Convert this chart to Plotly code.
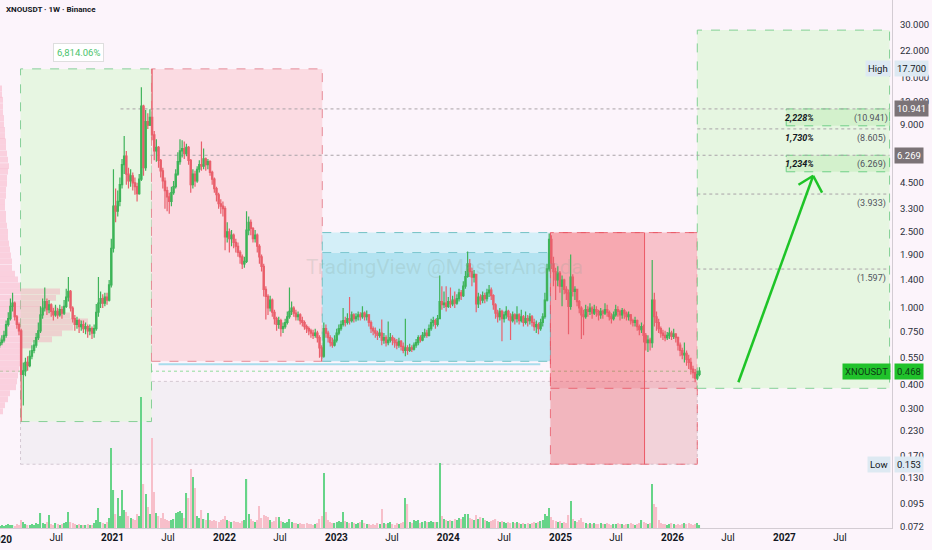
import numpy as np
import pandas as pd
import plotly.graph_objects as go

# ---- weekly candles XNOUSDT (Binance), first bar = week of 2019-12-30 ----
first_open = 0.64
close = [
    0.66, 0.68, 0.72, 0.82, 0.88, 1.02, 1.06, 0.90, 0.82, 0.76,
    0.45, 0.47, 0.52, 0.50, 0.56, 0.60, 0.64, 0.70, 0.76, 0.92,
    1.00, 1.08, 0.98, 1.04, 0.96, 0.92, 0.96, 0.92, 0.98, 0.94,
    1.02, 1.14, 1.22, 1.00, 0.88, 0.82, 0.86, 0.80, 0.82, 0.78,
    0.80, 0.76, 0.78, 0.74, 0.78, 0.95, 1.06, 1.12, 1.06, 1.14,
    1.10, 1.32, 2.05, 3.40, 3.20, 3.60, 4.40, 5.60, 6.20, 5.00,
    4.60, 4.90, 4.50, 4.30, 3.95, 4.70, 11.3, 5.40, 9.40, 9.00,
    9.90, 8.00, 6.60, 6.90, 5.90, 5.20, 4.60, 4.10, 3.80, 3.60,
    4.00, 4.30, 5.00, 5.80, 6.60, 6.80, 6.40, 6.90, 5.90, 4.40,
    5.00, 4.60, 5.30, 5.60, 5.50, 6.00, 5.60, 5.80, 5.10, 4.70,
    4.20, 3.90, 3.50, 3.40, 3.30, 2.35, 2.50, 2.30, 2.40, 2.20,
    2.10, 1.95, 1.85, 1.70, 1.75, 2.55, 2.80, 2.60, 2.30, 2.40,
    2.10, 1.85, 1.65, 1.25, 1.15, 1.00, 1.10, 0.95, 0.88, 0.82,
    0.86, 0.78, 0.80, 0.84, 0.90, 0.96, 1.00, 0.94, 0.90, 0.92,
    0.86, 0.84, 0.80, 0.78, 0.76, 0.74, 0.72, 0.74, 0.70, 0.62,
    0.56, 0.78, 0.74, 0.70, 0.66, 0.64, 0.68, 0.74, 0.78, 0.82,
    0.86, 0.84, 0.88, 0.86, 0.92, 0.88, 0.90, 0.92, 0.90, 0.94,
    0.90, 0.92, 0.84, 0.78, 0.76, 0.74, 0.72, 0.74, 0.68, 0.70,
    0.66, 0.68, 0.70, 0.68, 0.66, 0.64, 0.67, 0.63, 0.60, 0.62,
    0.60, 0.62, 0.61, 0.64, 0.66, 0.70, 0.68, 0.72, 0.74, 0.72,
    0.78, 0.84, 0.86, 0.82, 0.88, 1.08, 1.04, 1.06, 1.02, 1.08,
    1.05, 1.10, 1.06, 1.12, 1.20, 1.16, 1.30, 1.46, 1.70, 1.55,
    1.45, 1.50, 1.05, 1.14, 1.10, 1.16, 1.12, 1.20, 1.24, 1.16,
    1.04, 0.94, 0.90, 0.96, 0.88, 0.92, 0.96, 0.90, 0.86, 0.92,
    0.88, 0.92, 0.86, 0.90, 0.84, 0.88, 0.86, 0.90, 0.84, 0.80,
    0.82, 0.78, 0.84, 0.90, 1.10, 1.60, 2.28, 1.70, 1.55, 1.40,
    1.52, 1.30, 1.40, 1.25, 1.20, 1.02, 1.45, 1.22, 1.25, 1.08,
    1.00, 0.92, 0.90, 0.98, 0.96, 1.00, 0.94, 0.98, 0.96, 0.92,
    0.96, 0.94, 0.98, 0.95, 0.90, 0.88, 0.92, 0.98, 0.96, 0.92,
    0.97, 0.94, 0.90, 0.92, 0.86, 0.84, 0.86, 0.80, 0.77, 0.80,
    0.72, 0.66, 0.68, 0.66, 1.10, 0.90, 0.84, 0.78, 0.74, 0.72,
    0.70, 0.72, 0.74, 0.71, 0.73, 0.70, 0.64, 0.60, 0.57, 0.58,
    0.54, 0.52, 0.48, 0.46, 0.43, 0.45, 0.468,
]
high = [
    0.70, 0.72, 0.76, 0.86, 0.95, 1.12, 1.20, 1.08, 0.92, 0.84,
    0.78, 0.52, 0.55, 0.56, 0.60, 0.64, 0.68, 0.74, 0.84, 1.02,
    1.12, 1.28, 1.12, 1.10, 1.06, 1.00, 1.04, 1.00, 1.04, 1.02,
    1.10, 1.26, 1.45, 1.24, 1.02, 0.92, 0.90, 0.88, 0.86, 0.86,
    0.84, 0.82, 0.82, 0.80, 0.82, 1.05, 1.45, 1.22, 1.18, 1.20,
    1.20, 1.40, 2.30, 5.30, 4.20, 4.10, 4.80, 6.00, 7.90, 6.60,
    5.40, 5.30, 5.10, 4.80, 4.50, 5.00, 14.2, 11.5, 10.8, 10.4,
    10.9, 17.7, 8.40, 7.60, 7.00, 6.00, 5.40, 4.80, 4.30, 4.00,
    4.30, 4.60, 5.30, 6.50, 7.60, 7.50, 7.40, 7.20, 7.00, 6.00,
    5.30, 5.20, 5.50, 5.90, 7.40, 6.80, 6.10, 6.00, 5.90, 5.20,
    4.80, 4.30, 4.00, 3.70, 3.60, 3.40, 2.80, 2.60, 2.55, 2.45,
    2.30, 2.20, 2.00, 1.90, 1.85, 3.20, 3.00, 2.90, 2.65, 2.55,
    2.45, 2.15, 1.90, 1.70, 1.30, 1.18, 1.16, 1.12, 0.98, 0.90,
    0.90, 0.88, 0.84, 0.88, 0.96, 1.28, 1.08, 1.02, 0.98, 0.96,
    0.94, 0.90, 0.86, 0.82, 0.80, 0.78, 0.77, 0.78, 0.76, 0.72,
    0.64, 0.84, 0.82, 0.76, 0.72, 0.70, 0.72, 0.78, 0.82, 0.86,
    1.00, 0.90, 0.94, 1.14, 0.96, 0.94, 0.94, 0.96, 0.95, 1.02,
    0.96, 0.97, 0.93, 0.86, 0.80, 0.79, 0.76, 0.78, 0.87, 0.74,
    0.72, 0.85, 0.74, 0.72, 0.70, 0.69, 0.70, 0.68, 0.66, 0.88,
    0.64, 0.65, 0.64, 0.66, 0.69, 0.72, 0.72, 0.75, 0.78, 0.77,
    0.82, 0.88, 0.90, 0.88, 0.92, 1.48, 1.30, 1.22, 1.30, 1.14,
    1.28, 1.16, 1.22, 1.18, 1.26, 1.24, 1.38, 1.56, 1.97, 1.80,
    1.62, 1.58, 1.50, 1.20, 1.18, 1.22, 1.20, 1.26, 1.32, 1.28,
    1.18, 1.06, 0.98, 1.00, 0.98, 0.96, 1.02, 0.98, 0.94, 0.96,
    0.94, 1.02, 0.94, 0.98, 0.92, 0.96, 0.92, 0.94, 0.92, 0.88,
    0.86, 0.84, 0.88, 0.94, 1.20, 1.70, 2.45, 2.40, 1.85, 1.62,
    1.65, 1.56, 1.48, 1.42, 1.30, 1.25, 1.90, 1.50, 1.30, 1.26,
    1.10, 1.02, 0.98, 1.04, 1.02, 1.06, 1.02, 1.04, 1.02, 0.98,
    1.00, 0.98, 1.06, 1.04, 0.97, 0.94, 0.96, 1.04, 1.02, 0.98,
    1.00, 0.99, 0.96, 0.96, 0.93, 0.88, 0.90, 0.87, 0.82, 0.84,
    0.82, 0.74, 0.72, 0.70, 1.78, 1.20, 0.96, 0.88, 0.80, 0.77,
    0.76, 0.75, 0.79, 0.76, 0.78, 0.74, 0.71, 0.66, 0.62, 0.66,
    0.60, 0.57, 0.55, 0.50, 0.48, 0.47, 0.49,
]
low = [
    0.62, 0.64, 0.66, 0.70, 0.80, 0.86, 0.96, 0.86, 0.78, 0.72,
    0.256, 0.31, 0.44, 0.47, 0.49, 0.54, 0.58, 0.62, 0.68, 0.74,
    0.88, 0.96, 0.92, 0.94, 0.90, 0.86, 0.90, 0.88, 0.90, 0.88,
    0.92, 1.00, 1.08, 0.96, 0.84, 0.76, 0.78, 0.74, 0.76, 0.74,
    0.73, 0.70, 0.72, 0.69, 0.70, 0.76, 0.90, 1.00, 1.00, 1.02,
    1.04, 1.08, 1.28, 1.95, 2.80, 3.00, 3.40, 4.20, 5.00, 4.40,
    4.20, 4.30, 4.10, 3.90, 3.60, 3.90, 4.60, 4.90, 5.20, 8.60,
    8.90, 7.50, 5.90, 5.80, 5.40, 4.80, 4.20, 3.30, 3.20, 3.10,
    3.40, 3.90, 4.20, 4.90, 5.60, 6.10, 6.00, 6.20, 5.60, 4.00,
    4.20, 4.30, 4.50, 5.10, 5.20, 5.30, 5.20, 5.30, 4.90, 4.40,
    4.00, 3.60, 3.30, 3.10, 3.00, 2.00, 2.20, 1.95, 2.10, 2.05,
    1.95, 1.85, 1.70, 1.60, 1.62, 1.72, 2.40, 2.40, 2.20, 2.20,
    1.95, 1.70, 1.55, 1.15, 0.87, 0.92, 0.96, 0.90, 0.82, 0.76,
    0.78, 0.71, 0.74, 0.78, 0.82, 0.88, 0.92, 0.90, 0.86, 0.86,
    0.82, 0.80, 0.77, 0.74, 0.72, 0.70, 0.69, 0.70, 0.66, 0.55,
    0.527, 0.55, 0.70, 0.66, 0.63, 0.62, 0.63, 0.66, 0.72, 0.76,
    0.80, 0.80, 0.82, 0.82, 0.84, 0.84, 0.85, 0.86, 0.86, 0.88,
    0.86, 0.86, 0.80, 0.74, 0.72, 0.70, 0.68, 0.70, 0.64, 0.65,
    0.63, 0.64, 0.66, 0.64, 0.62, 0.61, 0.62, 0.60, 0.58, 0.56,
    0.57, 0.59, 0.59, 0.60, 0.62, 0.64, 0.66, 0.67, 0.70, 0.70,
    0.71, 0.76, 0.80, 0.78, 0.80, 0.88, 0.98, 1.00, 0.96, 1.00,
    1.00, 1.02, 1.00, 1.04, 1.08, 1.10, 1.14, 1.26, 1.44, 1.45,
    1.30, 1.36, 0.95, 1.00, 1.04, 1.06, 1.06, 1.08, 1.14, 1.10,
    0.98, 0.88, 0.84, 0.86, 0.67, 0.84, 0.88, 0.86, 0.68, 0.84,
    0.82, 0.84, 0.82, 0.84, 0.80, 0.82, 0.80, 0.82, 0.80, 0.76,
    0.74, 0.73, 0.76, 0.80, 0.88, 1.08, 1.55, 1.60, 1.30, 1.10,
    1.30, 1.20, 1.02, 1.18, 1.10, 0.73, 0.98, 1.15, 1.10, 1.02,
    0.94, 0.69, 0.72, 0.88, 0.90, 0.92, 0.88, 0.92, 0.90, 0.86,
    0.88, 0.88, 0.92, 0.90, 0.86, 0.83, 0.86, 0.90, 0.90, 0.86,
    0.88, 0.88, 0.86, 0.86, 0.82, 0.80, 0.80, 0.76, 0.72, 0.74,
    0.66, 0.60, 0.59, 0.60, 0.62, 0.80, 0.76, 0.74, 0.70, 0.68,
    0.67, 0.68, 0.69, 0.68, 0.69, 0.66, 0.60, 0.56, 0.54, 0.52,
    0.50, 0.48, 0.45, 0.43, 0.41, 0.42, 0.44,
]
volume = [
    2, 3, 2, 3, 4, 3, 3, 2, 4, 3,
    8, 6, 4, 3, 3, 4, 3, 5, 4, 15,
    5, 4, 6, 13, 4, 3, 5, 4, 3, 4,
    5, 6, 16, 6, 5, 4, 3, 4, 3, 3,
    3, 4, 3, 3, 5, 8, 20, 6, 5, 4,
    6, 10, 80, 38, 14, 30, 12, 38, 18, 16,
    12, 10, 9, 8, 14, 12, 131, 44, 34, 21,
    14, 90, 36, 15, 12, 10, 15, 9, 8, 7,
    8, 9, 15, 16, 17, 15, 10, 35, 30, 59,
    51, 40, 12, 10, 18, 9, 8, 15, 8, 7,
    8, 7, 6, 8, 9, 12, 8, 7, 6, 7,
    6, 6, 5, 7, 8, 49, 14, 9, 7, 6,
    8, 22, 10, 13, 12, 11, 8, 6, 7, 11,
    11, 7, 6, 5, 6, 9, 6, 5, 5, 4,
    5, 4, 4, 5, 4, 4, 3, 4, 5, 9,
    12, 55, 16, 8, 6, 5, 5, 6, 7, 6,
    16, 7, 6, 5, 6, 5, 4, 5, 6, 8,
    5, 4, 4, 3, 4, 3, 5, 4, 19, 5,
    4, 5, 6, 4, 3, 5, 4, 5, 6, 30,
    24, 6, 5, 8, 7, 8, 5, 6, 7, 6,
    6, 7, 6, 6, 6, 65, 12, 9, 8, 7,
    8, 7, 9, 8, 10, 9, 11, 14, 14, 10,
    9, 8, 13, 9, 11, 10, 8, 7, 6, 7,
    8, 9, 7, 6, 7, 6, 5, 6, 5, 6,
    5, 6, 5, 4, 5, 4, 5, 4, 5, 6,
    5, 6, 7, 8, 14, 12, 20, 11, 8, 7,
    6, 7, 5, 6, 5, 13, 27, 9, 7, 6,
    8, 10, 6, 5, 4, 5, 4, 5, 4, 4,
    5, 4, 4, 5, 4, 3, 4, 4, 5, 4,
    4, 3, 4, 4, 5, 4, 3, 4, 5, 8,
    6, 5, 4, 5, 44, 24, 21, 8, 5, 4,
    4, 3, 4, 5, 4, 3, 4, 3, 4, 5,
    4, 5, 4, 3, 4, 5, 3,
]

# visible range volume profile on the left edge
vp_price = [14.0, 13.0, 12.2, 11.3, 10.5, 9.8, 9.1, 8.5, 7.9, 7.4, 6.9, 6.4,
            5.94, 5.5, 5.15, 4.78, 4.45, 4.14, 3.85, 3.58, 3.34, 3.1, 2.89,
            2.69, 2.5, 2.33, 2.17, 2.02, 1.88, 1.75, 1.62, 1.51, 1.41, 1.31,
            1.22, 1.13, 1.05, 0.983, 0.915, 0.85, 0.79, 0.737, 0.686, 0.638,
            0.594, 0.553, 0.514, 0.479, 0.445, 0.414, 0.386, 0.359, 0.334,
            0.311, 0.289]
vp_volume = [2, 2, 3, 3, 3, 4, 4, 5, 5, 6, 6, 7, 8, 9, 8, 7, 7, 6, 6, 5, 5, 6,
             6, 7, 8, 8, 9, 10, 11, 12, 12, 15, 18, 20, 60, 56, 50, 58, 70,
             88, 73, 62, 52, 32, 22, 20, 20, 19, 18, 17, 16, 10, 8, 5, 3]

# scales
y_ticks = [40, 30, 22, 16, 12, 9, 4.5, 3.3, 2.5, 1.9, 1.4, 1.0, 0.75, 0.55,
           0.4, 0.3, 0.23, 0.17, 0.13, 0.095, 0.072]
x_ticks = ["2020-01-01", "2020-07-01", "2021-01-01", "2021-07-01",
           "2022-01-01", "2022-07-01", "2023-01-01", "2023-07-01",
           "2024-01-01", "2024-07-01", "2025-01-01", "2025-07-01",
           "2026-01-01", "2026-07-01", "2027-01-01", "2027-07-01"]
x_labels = ["2020", "Jul", "2021", "Jul", "2022", "Jul", "2023", "Jul",
            "2024", "Jul", "2025", "Jul", "2026", "Jul", "2027", "Jul"]

# drawn levels / anchors
ath = 17.7
covid_low = 0.2555
range_low = 0.527
range_high = 2.475
range_mid = 1.947
cycle_low = 0.153
support_top = 0.414
stop_level = 0.381
target_top = 28.2
base_line = 0.508
targets = [10.941, 8.605, 6.269, 3.933, 1.597]
target_pct = ["2,228%", "1,730%", "1,234%", "", ""]
rise_pct = "6,814.06%"

d_covid = "2020-03-07"
d_ath = "2021-05-08"
d_range = "2022-11-16"
d_break = "2024-11-29"
d_split = "2025-10-02"
d_now = "2026-03-23"
d_end = "2027-12-10"
d_lbl = "2027-01-07"

bg = "#fcf4fb"
weeks = pd.date_range("2019-12-30", periods=len(close), freq="7D")
opens = [first_open] + close[:-1]


def rect(x0, x1, y0, y1, fill, line=None, dash="dash", xref="x"):
    return dict(type="rect", xref=xref, yref="y", x0=x0, x1=x1, y0=y0, y1=y1,
                fillcolor=fill, layer="below",
                line=dict(color=line or "rgba(0,0,0,0)", width=1, dash=dash))


def seg(x0, x1, y0, y1, color, dash="dot", width=1, xref="x", layer="below"):
    return dict(type="line", xref=xref, yref="y", x0=x0, x1=x1, y0=y0, y1=y1,
                layer=layer, line=dict(color=color, width=width, dash=dash))


shapes = [
    rect(d_covid, d_now, cycle_low, support_top, "#f3eef4", "#d3c8d2", "dot"),
    rect(d_covid, d_ath, covid_low, ath, "#e7f6e2", "#86cf98"),
    rect(d_ath, d_range, range_low, ath, "#fbdbe2", "#e58b97"),
    rect(d_range, d_break, range_low, range_mid, "#b3e3f1"),
    rect(d_range, d_break, range_mid, range_high, "#d4eff8"),
    seg(d_range, d_break, range_mid, range_mid, "#7cc6cf", "dash"),
    rect(d_range, d_break, range_low, range_high, "rgba(0,0,0,0)", "#72c2c4"),
    rect(d_break, d_now, cycle_low, range_high, "rgba(242,54,69,0.15)"),
    rect(d_break, d_split, cycle_low, range_high, "rgba(242,54,69,0.18)"),
    rect(d_break, d_now, stop_level, range_high, "rgba(242,54,69,0.13)",
         "rgba(232,80,95,0.75)"),
    rect(d_break, d_now, cycle_low, range_high, "rgba(0,0,0,0)",
         "rgba(232,80,95,0.75)"),
    seg(d_split, d_split, cycle_low, range_high, "#ec5965", "solid"),
    rect(d_now, d_end, stop_level, target_top, "#e6f6e1", "#84d096"),
    rect(d_lbl, d_end, 8.93, targets[0], "#d3f1cc", "#6fcf86"),
    rect(d_lbl, d_end, 5.14, targets[2], "#d3f1cc", "#6fcf86"),
    seg("2021-01-27", d_end, targets[0], targets[0], "#a9a3a8"),
    seg("2021-05-05", d_end, targets[2], targets[2], "#a9a3a8"),
    seg(d_now, d_end, targets[1], targets[1], "#a9a3a8"),
    seg(d_now, d_end, targets[3], targets[3], "#a9a3a8"),
    seg(d_now, d_end, targets[4], targets[4], "#a9a3a8"),
    seg("2021-05-31", "2024-10-27", base_line, base_line, "#a9dcec", "solid", 2),
]
# volume profile bars
for p, v in zip(vp_price, vp_volume):
    shapes.append(rect(0, v, p / 1.036, p * 1.036, "rgba(248,150,175,0.38)",
                       xref="x2"))
# current price line
shapes.append(dict(type="line", xref="paper", yref="y", x0=0, x1=1,
                   y0=close[-1], y1=close[-1], layer="below",
                   line=dict(color="rgba(60,200,80,0.55)", width=1, dash="dot")))
# arrow
arrow_col = "#1ec427"
shapes += [
    seg("2026-08-04", "2027-04-05", 0.41, 4.90, arrow_col, "solid", 2.5, layer="above"),
    seg("2027-02-16", "2027-04-05", 4.40, 4.90, arrow_col, "solid", 2.5, layer="above"),
    seg("2027-04-05", "2027-05-04", 4.90, 4.00, arrow_col, "solid", 2.5, layer="above"),
]

fig = go.Figure()
vol_colors = ["#66d488" if c >= o else "#f7bfca" for o, c in zip(opens, close)]
fig.add_trace(go.Bar(x=weeks, y=volume, yaxis="y2", marker_color=vol_colors,
                     marker_line_width=0, width=4 * 86400000, hoverinfo="skip"))
fig.add_trace(go.Candlestick(
    x=weeks, open=opens, high=high, low=low, close=close,
    increasing=dict(line=dict(color="#3fb35a", width=1.2), fillcolor="#18c424"),
    decreasing=dict(line=dict(color="#e9606c", width=1.2), fillcolor="#f24b58"),
    whiskerwidth=0, hoverinfo="skip"))

ann = []
ann.append(dict(xref="paper", yref="paper", x=0, y=1, xanchor="left",
                yanchor="top", xshift=4, yshift=-3, showarrow=False,
                text="<b>XNOUSDT · 1W · Binance</b>",
                font=dict(size=8, color="#131722")))
# first year label sits on the left edge and is only half visible
ann.append(dict(x=x_ticks[0], yref="paper", y=0, yanchor="top", yshift=-4,
                showarrow=False, text=f"<b>{x_labels[0]}</b>",
                font=dict(size=10, color="#131722")))
ann.append(dict(xref="paper", yref="paper", x=0.498, y=0.494, showarrow=False,
                text="TradingView @MasterAnanda",
                font=dict(size=21, color="rgba(140,165,150,0.22)")))
ann.append(dict(x="2020-09-12", y=np.log10(ath), yshift=16, showarrow=False,
                text=rise_pct, bgcolor="#ffffff", bordercolor="#dedede",
                borderwidth=1, borderpad=3,
                font=dict(size=9.5, color="#4cc46c")))
for lvl, pct in zip(targets, target_pct):
    ann.append(dict(x="2027-10-11", y=np.log10(lvl), yanchor="top", yshift=-2,
                    showarrow=False, text=f"({lvl:.3f})",
                    font=dict(size=9, color="#50535e")))
    if pct:
        ann.append(dict(x="2027-02-18", y=np.log10(lvl), yanchor="top",
                        yshift=-2, showarrow=False, text=f"<b><i>{pct}</i></b>",
                        font=dict(size=9, color="#131722")))


def tag(price, text, bgc, fg, anchor="left"):
    return dict(xref="paper", yref="y", x=1, y=np.log10(price), text=text,
                xanchor=anchor, yanchor="middle", showarrow=False,
                bgcolor=bgc, borderpad=2, xshift=2 if anchor == "left" else -1,
                font=dict(size=9.5, color=fg))


ann += [
    tag(ath, "17.700", "#dde9f2", "#131722"),
    tag(ath, "High", "#dde9f2", "#131722", "right"),
    tag(targets[0], "10.941", "#7b7377", "#ffffff"),
    tag(targets[2], "6.269", "#7b7377", "#ffffff"),
    tag(close[-1], f"{close[-1]:.3f}", "#20c22b", "#0d3a14"),
    tag(close[-1], "XNOUSDT", "#20c22b", "#0d3a14", "right"),
    tag(cycle_low, "0.153", "#dde9f2", "#131722"),
    tag(cycle_low, "Low", "#dde9f2", "#131722", "right"),
]

fig.update_layout(
    width=932, height=550,
    margin=dict(l=0, r=40, t=0, b=22),
    paper_bgcolor=bg, plot_bgcolor=bg,
    showlegend=False,
    boxgap=0.15,
    font=dict(family="Roboto, Arial, sans-serif"),
    shapes=shapes, annotations=ann,
    xaxis=dict(type="date", range=["2019-12-31", "2027-12-18"],
               tickvals=x_ticks[1:],
               ticktext=[f"<b>{t}</b>" if t != "Jul" else t for t in x_labels[1:]],
               tickfont=dict(size=10, color="#131722"), ticks="",
               showgrid=False, zeroline=False, showline=True,
               linecolor="#d3ccd3", rangeslider=dict(visible=False)),
    yaxis=dict(type="log", side="right",
               range=[np.log10(0.0711), np.log10(40.5)],
               tickvals=y_ticks, ticktext=[f"{v:.3f}" for v in y_ticks],
               tickfont=dict(size=9.5, color="#2a2e39"), ticks="",
               ticklabelstandoff=5,
               showgrid=False, zeroline=False, showline=True,
               linecolor="#d3ccd3"),
    yaxis2=dict(overlaying="y", range=[0, 528], visible=False),
    xaxis2=dict(overlaying="x", range=[0, 892], visible=False),
)

fig.write_html("out.html", config={"displayModeBar": False},
               post_script="document.body.style.margin='0px';")
